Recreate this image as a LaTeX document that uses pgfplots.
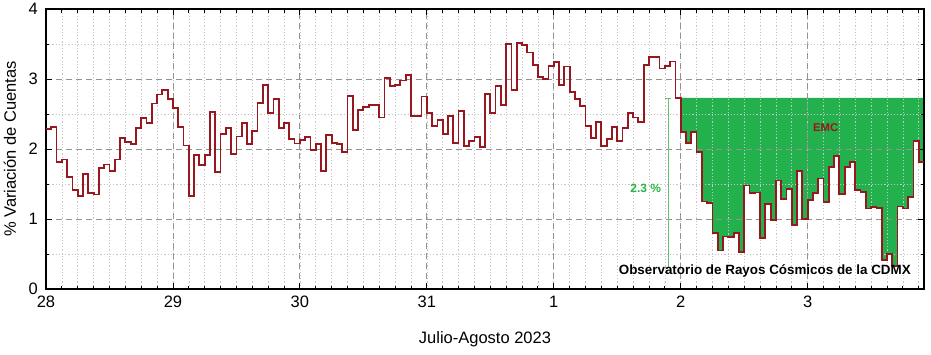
\documentclass[border=0pt]{standalone}
\usepackage{fontspec}
\setmainfont{Liberation Sans}
\usepackage{pgfplots}
\usepackage{pgfplotstable}
\pgfplotsset{compat=1.18}
\usepgfplotslibrary{fillbetween}
\definecolor{redline}{RGB}{150,24,30}
\definecolor{emcgreen}{RGB}{34,177,76}
\definecolor{markgreen}{RGB}{95,195,115}
\definecolor{labgreen}{RGB}{40,180,70}
% hours since 28 July 00:00, percent variation
\pgfplotstableread{
h v
0 2.29
1 2.31
2 1.81
3 1.85
4 1.60
5 1.42
6 1.33
7 1.64
8 1.37
9 1.35
10 1.73
11 1.78
12 1.69
13 1.85
14 2.16
15 2.10
16 2.07
17 2.30
18 2.44
19 2.37
20 2.65
21 2.78
22 2.84
23 2.71
24 2.59
25 2.32
26 2.05
27 1.33
28 1.91
29 1.77
30 1.91
31 2.53
32 1.67
33 2.21
34 2.30
35 1.93
36 2.18
37 2.37
38 2.07
39 2.26
40 2.66
41 2.91
42 2.51
43 2.72
44 2.30
45 2.37
46 2.14
47 2.08
48 2.13
49 2.17
50 1.99
51 2.07
52 1.69
53 2.20
54 2.09
55 2.07
56 1.96
57 2.76
58 2.27
59 2.56
60 2.60
61 2.63
62 2.63
63 2.45
64 3.02
65 2.90
66 2.92
67 2.98
68 3.06
69 2.47
70 2.47
71 2.75
72 2.51
73 2.33
74 2.41
75 2.22
76 2.47
77 2.09
78 2.54
79 2.04
80 2.11
81 2.17
82 2.03
83 2.79
84 2.51
85 2.90
86 2.63
87 3.50
88 2.84
89 3.52
90 3.49
91 3.38
92 3.20
93 3.03
94 3.00
95 3.19
96 3.24
97 2.92
98 3.18
99 2.81
100 2.72
101 2.61
102 2.33
103 2.16
104 2.39
105 2.04
106 2.14
107 2.31
108 2.12
109 2.30
110 2.51
111 2.45
112 2.39
113 3.20
114 3.32
115 3.32
116 3.15
117 3.19
118 3.25
119 2.73
120 2.24
121 2.09
122 2.24
123 1.96
124 1.25
125 1.23
126 0.80
127 0.55
128 0.75
129 0.74
130 0.80
131 0.53
132 1.48
133 1.37
134 1.38
135 0.73
136 1.21
137 0.99
138 1.55
139 1.29
140 1.43
141 0.91
142 1.69
143 1.00
144 1.27
145 1.37
146 1.58
147 1.24
148 1.74
149 1.90
150 1.36
151 1.74
152 1.82
153 1.41
154 1.39
155 1.15
156 1.17
157 1.16
158 0.42
159 0.50
160 0.33
161 1.18
162 1.15
163 1.32
164 2.12
165 1.81
166 1.81
}\datatable
\pgfplotstableread{
h v
120 2.24
121 2.09
122 2.24
123 1.96
124 1.25
125 1.23
126 0.80
127 0.55
128 0.75
129 0.74
130 0.80
131 0.53
132 1.48
133 1.37
134 1.38
135 0.73
136 1.21
137 0.99
138 1.55
139 1.29
140 1.43
141 0.91
142 1.69
143 1.00
144 1.27
145 1.37
146 1.58
147 1.24
148 1.74
149 1.90
150 1.36
151 1.74
152 1.82
153 1.41
154 1.39
155 1.15
156 1.17
157 1.16
158 0.42
159 0.50
160 0.33
161 1.18
162 1.15
163 1.32
164 2.12
165 1.81
166 1.81
}\emctable
\begin{document}
\begin{tikzpicture}
\begin{axis}[
  set layers,
  scale only axis, width=878pt, height=280pt,
  xmin=0, xmax=166, ymin=0, ymax=4,
  xtick={0,24,48,72,96,120,144},
  xticklabels={28,29,30,31,1,2,3},
  minor xtick={3,6,...,165},
  ytick={0,1,2,3,4},
  minor ytick={0.5,1.5,2.5,3.5},
  tick align=inside,
  major tick length=6pt, minor tick length=3.5pt,
  every tick/.style={black, line width=0.8pt},
  grid=both,
  major grid style={gray!85, line width=0.8pt, dash pattern=on 6pt off 4pt},
  minor grid style={gray!45, line width=0.6pt, dash pattern=on 1.2pt off 2pt},
  axis line style={black, line width=1.3pt},
  /pgf/number format/assume math mode=true,
  tick label style={font=\fontsize{16.5}{18}\selectfont},
  xticklabel style={anchor=north, inner sep=0pt, yshift=-7pt},
  yticklabel style={anchor=east, inner sep=0pt, xshift=-8pt},
  xlabel={Julio-Agosto 2023},
  ylabel={\% Variación de Cuentas},
  every axis x label/.style={at={(axis description cs:0.5,-0.1786)}, anchor=center, font=\fontsize{16.5}{18}\selectfont},
  every axis y label/.style={at={(axis description cs:-0.041,0.5)}, rotate=90, anchor=center, font=\fontsize{16.5}{18}\selectfont},
]
\addplot[name path=emc, const plot, draw=none, forget plot] table[x=h, y=v] {\emctable};
\addplot[name path=base, draw=none, forget plot] coordinates {(120,2.73) (166,2.73)};
\addplot[emcgreen, draw=none, forget plot] fill between[of=base and emc, on layer=axis background];
\addplot[const plot, redline, line width=1.8pt, line join=miter] table[x=h, y=v] {\datatable};
\addplot[markgreen, line width=0.8pt] coordinates {(117.6,0.31) (117.6,2.72)};
\addplot[markgreen, line width=0.8pt] coordinates {(117.05,0.31) (118.15,0.31)};
\addplot[markgreen, line width=0.8pt] coordinates {(117.05,2.72) (118.15,2.72)};
\node[font=\bfseries\fontsize{12}{14}\selectfont, text=labgreen] at (axis cs:113.4,1.44) {2.3 \%};
\node[font=\bfseries\fontsize{11.3}{13}\selectfont, text=redline] at (axis cs:147.4,2.3) {EMC};
\node[font=\bfseries\fontsize{13.4}{15}\selectfont, text=black] at (axis cs:135.9,0.26) {Observatorio de Rayos Cósmicos de la CDMX};
\end{axis}
\pgfresetboundingbox
\path[use as bounding box] (-46pt,-65pt) rectangle (885pt,289pt);
\end{tikzpicture}
\end{document}
